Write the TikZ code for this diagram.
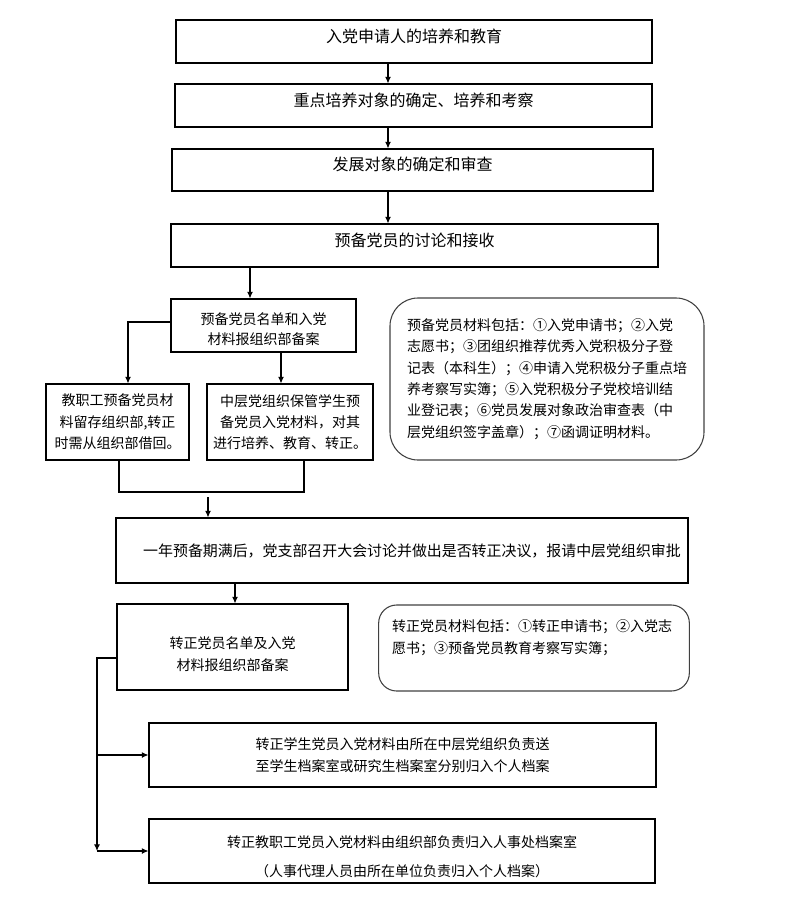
\documentclass[tikz,border=0pt]{standalone}
\usepackage{fontspec}
\setmainfont{Noto Sans CJK SC}
\usetikzlibrary{arrows.meta}

\begin{document}
\begin{tikzpicture}[x=0.75pt,y=-0.75pt,line width=0.8pt,
    >={Latex[length=5pt,width=4.5pt]},
    stage/.style={draw, rectangle, inner sep=0pt, font=\fontsize{12pt}{15pt}\selectfont},
    toptext/.style={text height=9pt, text depth=8pt},
    entry/.style={draw, rectangle, inner sep=0pt, align=center, font=\fontsize{10.5pt}{16pt}\selectfont},
    memo/.style={draw=black!75, rounded corners=#1, inner xsep=10pt, align=left, font=\fontsize{10.5pt}{16pt}\selectfont}]
                \useasboundingbox (0,0) rectangle (800,924);
                \node[stage, toptext, minimum width=357pt, minimum height=32.25pt] (apply) at (414,41.5) {入党申请人的培养和教育};
                \node[stage, toptext, minimum width=357.75pt, minimum height=32.25pt] (key) at (413.5,105.5) {重点培养对象的确定、培养和考察};
                \node[stage, toptext, minimum width=360.75pt, minimum height=31.5pt] (devel) at (412.5,170) {发展对象的确定和审查};
                \node[stage, toptext, minimum width=365.25pt, minimum height=32.25pt] (admit) at (414.5,245.5) {预备党员的讨论和接收};
                \node[entry, font=\fontsize{10.5pt}{15pt}\selectfont, minimum width=138.75pt, minimum height=39.75pt] (list) at (263.5,325.5) {\mbox{}\\[-1pt]预备党员名单和入党\\材料报组织部备案};
                \node[entry, minimum width=107.25pt, minimum height=57pt] (staff) at (117.5,422) {教职工预备党员材\\料留存组织部,转正\\时需从组织部借回。};
                \node[entry, minimum width=124.5pt, minimum height=57pt] (student) at (290,422) {中层党组织保管学生预\\备党员入党材料，对其\\进行培养、教育、转正。};
                \node[memo=21pt, minimum width=235.5pt, minimum height=121.5pt] (prepdocs) at (547,379) {预备党员材料包括：①入党申请书；②入党\\志愿书；③团组织推荐优秀入党积极分子登\\记表（本科生）；④申请入党积极分子重点培\\养考察写实簿；⑤入党积极分子党校培训结\\业登记表；⑥党员发展对象政治审查表（中\\层党组织签字盖章）；⑦函调证明材料。};
                \node[stage, font=\fontsize{11.2pt}{15pt}\selectfont, minimum width=429pt, minimum height=48.75pt] (vote) at (402,550.5) {\hspace*{15pt}一年预备期满后，党支部召开大会讨论并做出是否转正决议，报请中层党组织审批};
                \node[entry, font=\fontsize{10.5pt}{16.5pt}\selectfont, minimum width=173.25pt, minimum height=64.5pt] (full) at (232.5,647) {\mbox{}\\[3pt]转正党员名单及入党\\材料报组织部备案};
                \node[memo=13.5pt, font=\fontsize{10.5pt}{16.5pt}\selectfont, text width=213pt, minimum height=64.5pt] (fulldocs) at (534,648) {转正党员材料包括：①转正申请书；②入党志\\愿书；③预备党员教育考察写实簿；\\ \mbox{}};
                \node[entry, minimum width=380.25pt, minimum height=48pt] (stuarch) at (402.5,755) {转正学生党员入党材料由所在中层党组织负责送\\至学生档案室或研究生档案室分别归入个人档案};
                \node[entry, minimum width=379.5pt, minimum height=48pt] (staffarch) at (402,851) {\mbox{}\\[1pt]转正教职工党员入党材料由组织部负责归入人事处档案室\\[6pt]（人事代理人员由所在单位负责归入个人档案）};
                \coordinate (c1) at (388,0);
                \coordinate (c2) at (250,0);
                \coordinate (c3) at (281,0);
                \coordinate (c4) at (128,322);
                \coordinate (c5) at (235,0);
                \coordinate (fj) at (119,492);
                \coordinate (gj) at (304,492);
                \coordinate (hin) at (208,497);
                \coordinate (tap) at (97,658);
                \draw[->] (c1 |- apply.south) -- (c1 |- key.north);
                \draw[->] (c1 |- key.south) -- (c1 |- devel.north);
                \draw[->] (c1 |- devel.south) -- (c1 |- admit.north);
                \draw[->] (c2 |- admit.south) -- (c2 |- list.north);
                \draw[->] (c3 |- list.south) -- (c3 |- student.north);
                \draw[->] (c4 -| list.west) -- (c4) -- (c4 |- staff.north);
                \draw (fj |- staff.south) -- (fj) -- (gj) -- (gj |- student.south);
                \draw[->] (hin) -- (hin |- vote.north);
                \draw[->] (c5 |- vote.south) -- (c5 |- full.north);
                \draw[->] (tap -| full.west) -- (tap) -- (tap |- staffarch.west);
                \draw[->] (tap |- stuarch.west) -- (stuarch.west);
                \draw[->] (tap |- staffarch.west) -- (staffarch.west);
            \end{tikzpicture}
\end{document}
